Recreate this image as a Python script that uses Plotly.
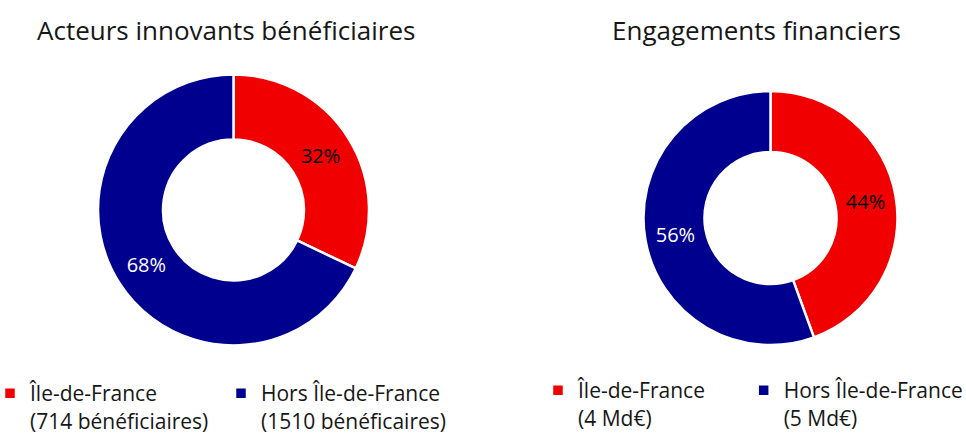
import plotly.graph_objects as go

# Beneficiary split (number of innovative actors)
actors_labels = ["Île-de-France<br>(714 bénéficiaires)", "Hors Île-de-France<br>(1510 bénéficaires)"]
actors_values = [714, 1510]

# Financial commitments split (billions of euros)
funds_labels = ["Île-de-France<br>(4 Md€)", "Hors Île-de-France<br>(5 Md€)"]
funds_values = [4, 5]

titles = ["Acteurs innovants bénéficiaires", "Engagements financiers"]

RED = "#F00000"
BLUE = "#00008F"
INK = "#161616"
FONT = "Open Sans"

W, H = 966, 434


def padded(labels, pad):
    # widen an entry's first line with no-break spaces to set the gap to the next entry
    out = []
    for lab, n in zip(labels, pad):
        first, second = lab.split("<br>")
        out.append(first + "\u00a0" * n + "<br>" + second)
    return out


def px_x(v):
    return v / W


def px_y(v):
    return 1 - v / H


def donut(labels, values, x0, x1, top, bottom, legend_id):
    return go.Pie(
        labels=labels,
        values=values,
        hole=0.52,
        sort=False,
        direction="clockwise",
        rotation=0,
        marker=dict(colors=[RED, BLUE], line=dict(color="white", width=2.5)),
        texttemplate="%{percent:.0%}",
        textposition="inside",
        insidetextorientation="horizontal",
        textfont=dict(family=FONT, size=20, color=["#000000", "#FFFFFF"]),
        domain=dict(x=[px_x(x0), px_x(x1)], y=[px_y(bottom), px_y(top)]),
        legend=legend_id,
        hoverinfo="percent",
    )


fig = go.Figure()
fig.add_trace(donut(actors_labels, actors_values, 98, 369, 74.5, 345.5, "legend"))
fig.add_trace(donut(padded(funds_labels, (6, 0)), funds_values, 643.5, 897.5, 91, 345, "legend2"))

legend_style = dict(
    orientation="h",
    xanchor="left",
    valign="top",
    font=dict(family=FONT, size=21, color=INK),
    bgcolor="rgba(0,0,0,0)",
    traceorder="normal",
)

fig.update_layout(
    width=W,
    height=H,
    margin=dict(l=0, r=0, t=0, b=0, autoexpand=False),
    paper_bgcolor="white",
    plot_bgcolor="white",
    showlegend=True,
    legend=dict(x=px_x(-10), y=-7 / H, yanchor="bottom", entrywidth=186, **legend_style),
    legend2=dict(x=px_x(538), y=-4 / H, yanchor="bottom", **legend_style),
    annotations=[
        dict(text=titles[0], x=px_x(225.5), y=px_y(30), xref="paper", yref="paper",
             xanchor="center", yanchor="middle", showarrow=False,
             font=dict(family=FONT, size=26, color=INK)),
        dict(text=titles[1], x=px_x(756), y=px_y(30), xref="paper", yref="paper",
             xanchor="center", yanchor="middle", showarrow=False,
             font=dict(family=FONT, size=26, color=INK)),
    ],
)

fig.write_html("out.html")
